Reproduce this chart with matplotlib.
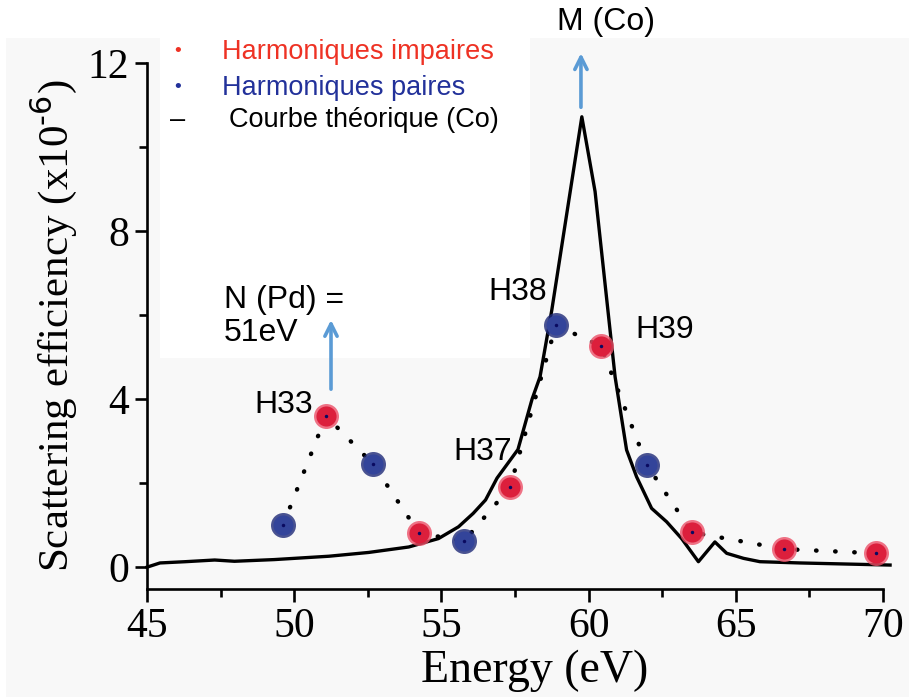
import matplotlib
matplotlib.use('Agg')
import matplotlib.pyplot as plt
from matplotlib.patches import Rectangle

# theoretical curve (Co)
curve_e = [45.0, 45.44, 46.3, 47.3, 47.97, 49.32, 51.18, 52.53, 53.89, 54.9, 55.58, 56.08,
           56.5, 56.89, 57.6, 58.08, 58.35, 58.75, 59.77, 60.22, 60.9, 61.29, 61.63, 62.14,
           62.65, 63.16, 63.73, 64.29, 64.69, 65.26, 65.82, 67.18, 70.24]
curve_v = [0.0, 0.10, 0.13, 0.17, 0.14, 0.18, 0.26, 0.35, 0.48, 0.68, 0.96, 1.28,
           1.6, 2.12, 2.8, 4.0, 4.53, 6.12, 10.72, 8.94, 4.53, 2.79, 2.15, 1.40,
           1.08, 0.68, 0.13, 0.60, 0.33, 0.21, 0.13, 0.10, 0.05]

# measured harmonics
odd_e = [51.08, 54.24, 57.33, 60.42, 63.51, 66.64, 69.76]
odd_v = [3.60, 0.81, 1.90, 5.26, 0.83, 0.43, 0.33]
even_e = [49.62, 52.68, 55.77, 58.89, 61.98]
even_v = [1.00, 2.45, 0.62, 5.76, 2.43]

W, H = 909, 697
fig = plt.figure(figsize=(W / 100, H / 100), dpi=100)
fig.patch.set_facecolor('white')

def fx(px):
    return px / W

def fy(py):
    return 1 - py / H

# light grey plot background and the white legend box pasted on it
fig.patches.append(Rectangle((fx(6), 0), fx(W - 6), fy(38), transform=fig.transFigure,
                             facecolor='#f8f8f8', edgecolor='none', zorder=-2))
fig.patches.append(Rectangle((fx(160), fy(358)), fx(530 - 160), (358 - 38) / H,
                             transform=fig.transFigure, facecolor='white',
                             edgecolor='none', zorder=-1))

ax = fig.add_axes([fx(147), fy(589), fx(883 - 147), (589 - 63) / H])
ax.set_facecolor('none')

serif = 'Liberation Serif'
sans = 'Liberation Sans'

ax.plot(curve_e, curve_v, color='black', lw=2.4, clip_on=False, zorder=2)

# dotted connection between harmonics
all_pts = sorted(zip(odd_e + even_e, odd_v + even_v))
ax.plot([p[0] for p in all_pts], [p[1] for p in all_pts], color='black', lw=3.2,
        linestyle=(0, (0.1, 4.2)), dash_capstyle='round', zorder=3)

for xs, ys, col, ring in [(odd_e, odd_v, '#dc1f3c', '#ec5068'),
                          (even_e, even_v, '#33449a', '#1f2a78')]:
    ax.plot(xs, ys, 'o', ms=18, color=ring, mec='none', alpha=0.8, zorder=4, clip_on=False)
    ax.plot(xs, ys, 'o', ms=14.5, color=col, mec='none', zorder=5, clip_on=False)
    ax.plot(xs, ys, 'o', ms=2.5, color='#0a0a60', mec='none', zorder=6, clip_on=False)

ax.set_xlim(45, 70)
ax.set_ylim(-0.52, 12)
ax.set_xticks([45, 50, 55, 60, 65, 70])
ax.set_xticks([47.5, 52.5, 57.5, 62.5, 67.5], minor=True)
ax.set_yticks([0, 4, 8, 12])
ax.set_yticks([2, 6, 10], minor=True)
for s in ['top', 'right']:
    ax.spines[s].set_visible(False)
for s in ['left', 'bottom']:
    ax.spines[s].set_linewidth(1.9)
ax.tick_params(which='major', length=9, width=1.9, direction='out', pad=4)
ax.tick_params(which='minor', length=6, width=1.9, direction='out')
for lab in ax.get_xticklabels() + ax.get_yticklabels():
    lab.set_fontfamily(serif)
    lab.set_fontsize(30)

ax.set_xlabel('Energy (eV)', fontfamily=serif, fontsize=33, labelpad=0)
ax.xaxis.set_label_coords(0.527, -0.115)
plt.rcParams['mathtext.fontset'] = 'custom'
plt.rcParams['mathtext.rm'] = serif
plt.rcParams['mathtext.it'] = serif + ':italic'
ax.set_ylabel('Scattering efficiency (x10$^{\\mathrm{\u2010 6}}$)', fontfamily=serif,
              fontsize=31, labelpad=6)

# arrows
arrow_kw = dict(arrowstyle='->', color='#5b9bd5', lw=2.6, mutation_scale=22)
ax.annotate('', xy=(59.74, 12.3), xytext=(59.74, 10.88), arrowprops=arrow_kw,
            annotation_clip=False)
ax.annotate('', xy=(51.25, 5.95), xytext=(51.25, 4.17), arrowprops=arrow_kw,
            annotation_clip=False)

# labels
tk = dict(fontfamily=sans, fontsize=23, color='black')
ax.text(49.65, 3.86, 'H33', ha='center', va='center', **tk)
ax.text(56.41, 2.74, 'H37', ha='center', va='center', **tk)
ax.text(57.6, 6.55, 'H38', ha='center', va='center', **tk)
ax.text(62.6, 5.64, 'H39', ha='center', va='center', **tk)
ax.text(47.62, 6.36, 'N (Pd) =', ha='left', va='center', **tk)
ax.text(47.62, 5.57, '51eV', ha='left', va='center', **tk)
fig.text(fx(606), fy(22), 'M (Co)', ha='center', va='center', **tk)

# legend drawn as text
lk = dict(fontfamily=sans, fontsize=19.5, va='center')
fig.text(fx(178), fy(52), '\u2022', ha='center', color='#ee3224', fontsize=14,
         fontfamily=sans, va='center')
fig.text(fx(222), fy(52), 'Harmoniques impaires', ha='left', color='#ee3224', **lk)
fig.text(fx(178), fy(88), '\u2022', ha='center', color='#22319a', fontsize=14,
         fontfamily=sans, va='center')
fig.text(fx(222), fy(88), 'Harmoniques paires', ha='left', color='#22319a', **lk)
fig.text(fx(178), fy(120), '\u2013', ha='center', color='black', **lk)
fig.text(fx(229), fy(120), 'Courbe théorique (Co)', ha='left', color='black', **lk)

fig.savefig('out.png', dpi=100)
